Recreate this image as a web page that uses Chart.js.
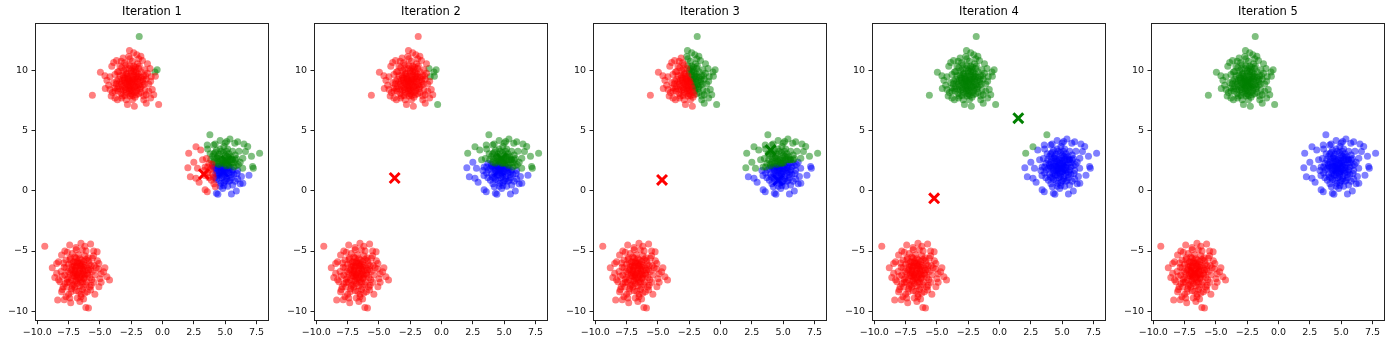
<!DOCTYPE html>
<html>
<head>
<meta charset="utf-8">
<title>K-means iterations</title>
<script src="https://cdn.jsdelivr.net/npm/chart.js@4.4.1/dist/chart.umd.min.js"></script>
<style>
  html, body { margin: 0; padding: 0; background: #fff; }
  #wrap { position: relative; width: 1400px; height: 345px; }
  #wrap canvas { position: absolute; top: 0; }
</style>
</head>
<body>
<div id="wrap"></div>
<script>
// sample points, three blobs (same points in every panel)
const blobTop = [
  [-1.86,12.86],[-2.64,11.70],[-2.30,11.50],[-2.05,11.35],[-3.15,11.08],[-3.67,10.86],[-1.73,11.22],
  [-1.60,10.86],[-3.02,10.67],[-4.05,10.39],[-4.96,9.89],[-0.43,10.10],[-0.57,9.56],[-0.95,9.14],
  [-0.82,8.44],[-4.44,9.22],[-4.57,8.53],[-4.19,8.44],[-5.60,7.97],[-3.80,7.75],[-3.28,7.75],
  [-2.25,7.06],[-0.95,7.75],[-0.31,7.20],[-1.30,7.30],[-2.80,7.20],[-1.50,7.90],[-0.70,8.00],
  [-4.10,7.90],[-3.90,10.70],[-2.70,11.20],[-1.20,10.60],[-1.00,10.20],[-4.60,9.60],[-0.60,9.90],
  [-2.5,9.0],[-2.2,9.3],[-2.8,8.8],[-3.0,9.4],[-2.0,8.6],[-2.6,9.6],[-3.3,8.9],[-1.8,9.2],
  [-2.4,8.3],[-2.9,8.2],[-3.5,9.3],[-1.6,8.8],[-2.1,9.9],[-3.1,10.0],[-2.7,10.2],[-3.6,8.5],
  [-1.5,9.6],[-2.3,10.4],[-3.8,9.7],[-1.9,8.1],[-2.6,7.9],[-3.3,8.1],[-1.4,8.4],[-2.0,10.6],
  [-3.4,10.4],[-1.7,9.9],[-2.9,9.7],[-2.4,9.5],[-2.2,8.7],[-3.0,8.6],[-2.7,8.5],[-1.9,9.5],
  [-3.2,9.2],[-2.5,10.0],[-1.3,9.3],[-3.9,9.0],[-2.1,8.0],[-2.8,9.1],[-2.3,9.1],[-3.5,8.7],
  [-1.8,8.5],[-2.6,8.7],[-3.1,8.4],[-1.1,8.9],[-4.0,8.2],[-2.0,9.1],[-3.6,9.9],[-2.4,7.6],
  [-1.6,9.1],[-3.2,7.9],[-2.9,10.5],[-1.9,10.2],[-3.7,8.9],[-2.2,7.8],[-1.2,9.8],[-3.4,9.6],
  [-2.7,9.3],[-2.1,9.5],[-3.0,9.0],[-2.5,8.1],[-1.7,8.2],[-3.3,10.8],[-2.4,10.8],[-1.4,10.1],
  [-4.3,8.8],[-3.8,8.3],[-2.9,7.6],[-1.1,8.3],[-2.2,10.1],[-3.6,7.6],[-1.5,7.6],[-2.6,11.0],
  [-1.9,11.0],[-4.2,9.5],[-0.9,9.5],[-1.3,8.0],
  [-2.45,9.15],[-2.65,9.05],[-2.35,8.85],[-2.55,8.6],[-2.75,9.35],[-2.15,9.05],[-2.9,8.95],
  [-2.3,9.65],[-2.0,9.35],[-3.05,9.2],[-2.6,8.35],[-1.85,8.85],[-3.2,8.7],[-2.85,9.8],
  [-2.05,8.35],[-3.4,9.05],[-1.7,9.45],[-2.5,9.85],[-2.95,8.45],[-2.25,8.55],[-3.15,9.65],
  [-1.95,9.75],[-2.7,8.1],[-3.5,9.95],[-1.55,9.3],[-2.4,10.2],[-3.3,8.45],[-2.1,8.75],
  [-2.8,9.55],[-1.75,8.65],[-3.65,9.15],[-2.35,9.3],[-2.6,10.45],[-3.0,7.95],[-2.15,10.3],
  [-1.45,8.9],[-3.55,8.3],[-2.5,8.45],[-2.95,10.15],[-1.85,10.4],[-3.25,10.25],[-2.2,8.2],
  [-2.7,8.75],[-3.8,8.6],[-1.35,9.6],[-2.4,7.95],[-2.05,9.6],[-3.1,9.45],[-2.6,9.2],[-2.3,9.95]
];

const blobBottom = [
  [-9.40,-4.60],[-7.41,-4.50],[-6.51,-4.36],[-5.74,-4.42],[-5.22,-5.06],[-8.06,-5.33],[-8.45,-6.03],
  [-8.45,-6.86],[-8.19,-7.56],[-8.06,-8.39],[-8.37,-9.08],[-7.85,-9.05],[-7.33,-9.30],[-6.51,-8.81],
  [-6.12,-9.70],[-5.91,-9.75],[-4.44,-7.14],[-4.23,-7.42],[-4.70,-6.72],[-5.08,-6.03],[-5.74,-8.25],
  [-5.08,-7.97],[-7.93,-7.97],[-6.90,-4.70],[-6.20,-4.60],[-7.80,-5.00],[-5.50,-5.40],[-4.90,-7.60],
  [-8.60,-7.20],[-7.40,-8.90],[-6.30,-9.00],[-5.40,-8.60],[-4.60,-6.40],[-8.80,-6.40],
  [-6.7,-6.8],[-6.4,-6.5],[-7.0,-7.1],[-6.9,-6.3],[-6.2,-7.0],[-7.3,-6.6],[-6.5,-7.4],[-6.0,-6.4],
  [-7.1,-5.9],[-6.8,-7.7],[-5.8,-7.2],[-7.5,-7.2],[-6.3,-5.9],[-7.2,-7.9],[-6.6,-6.0],[-5.6,-6.7],
  [-7.7,-6.4],[-6.1,-7.8],[-6.9,-5.6],[-7.4,-5.7],[-5.9,-5.8],[-6.4,-8.2],[-7.8,-7.0],[-5.4,-7.0],
  [-6.6,-7.2],[-7.0,-6.6],[-6.3,-6.9],[-6.8,-6.2],[-7.6,-7.6],[-5.7,-6.2],[-6.2,-5.4],[-7.2,-5.2],
  [-6.5,-8.6],[-7.9,-6.0],[-5.3,-6.4],[-6.9,-8.3],[-7.3,-8.4],[-5.8,-8.0],[-6.0,-6.9],[-7.1,-6.9],
  [-6.6,-6.5],[-6.4,-7.6],[-7.5,-6.1],[-5.5,-7.6],[-6.7,-5.3],[-7.6,-5.1],[-8.1,-6.7],[-6.1,-5.0],
  [-7.0,-7.5],[-6.2,-6.2],[-6.8,-7.0],[-5.9,-6.6],[-7.3,-7.4],[-6.5,-6.2],[-7.8,-7.7],[-5.2,-5.8],
  [-6.0,-8.4],[-6.8,-8.9],[-7.5,-8.6],[-6.3,-7.3],[-7.2,-6.3],[-5.6,-5.6],[-8.3,-5.9],[-6.9,-4.9],
  [-5.5,-5.0],[-7.0,-5.5],[-6.6,-9.2],[-8.0,-8.2],[-4.9,-6.9],[-5.1,-6.5],[-6.4,-4.9],[-7.7,-8.8],
  [-8.3,-7.4],[-5.0,-7.3],
  [-6.65,-6.65],[-6.85,-6.95],[-6.5,-6.85],[-6.75,-7.3],[-6.95,-6.45],[-6.35,-6.7],[-7.15,-7.05],
  [-6.55,-6.25],[-7.05,-6.25],[-6.25,-7.25],[-6.9,-7.45],[-7.4,-6.85],[-6.15,-6.6],[-6.6,-7.9],
  [-7.25,-6.05],[-6.45,-5.75],[-5.95,-7.0],[-7.55,-6.7],[-6.8,-5.85],[-6.3,-8.0],[-7.6,-7.35],
  [-5.75,-6.55],[-7.0,-8.0],[-6.1,-5.7],[-7.35,-5.55],[-6.05,-7.55],[-7.85,-6.35],[-6.7,-8.35],
  [-5.65,-7.4],[-7.1,-7.8],[-6.4,-6.1],[-6.95,-5.95],[-7.45,-7.6],[-5.85,-6.1],[-6.6,-5.65],
  [-7.7,-5.75],[-6.2,-8.5],[-7.25,-8.15],[-5.45,-6.2],[-6.85,-7.15],[-6.45,-7.05],[-7.0,-6.8],
  [-6.3,-6.35],[-7.2,-6.55],[-6.55,-7.6],[-5.95,-5.55],[-7.65,-8.0],[-6.75,-6.0],[-5.7,-7.85],
  [-8.0,-7.1]
];

const blobRight = [
  [3.78,4.67],[5.38,4.33],[5.12,4.11],[5.77,3.97],[6.80,3.70],[6.62,3.28],[7.75,3.14],[6.41,2.72],
  [2.09,3.14],[2.67,3.69],[3.05,3.42],[3.57,3.83],[4.09,3.83],[2.02,1.94],[2.79,1.89],[2.22,1.19],
  [2.67,1.06],[2.92,0.72],[3.39,1.28],[3.57,-0.06],[4.42,-0.28],[5.50,-0.25],[5.89,0.00],[6.41,0.64],
  [7.19,2.03],[7.25,1.90],[4.22,0.36],[6.20,0.60],[3.40,0.10],[4.30,-0.20],[7.10,2.90],[6.00,4.10],
  [4.60,4.20],[3.20,2.60],[6.90,1.30],[2.50,2.40],[6.50,3.90],
  [4.75,1.9],[4.5,2.2],[5.0,1.6],[4.3,1.7],[5.2,2.3],[4.8,2.6],[4.1,2.4],[5.4,1.9],[4.6,1.3],
  [5.1,1.0],[3.9,1.9],[5.6,2.6],[4.4,2.9],[5.0,3.0],[4.2,1.1],[5.7,1.4],[3.7,2.3],[4.9,0.7],
  [5.3,2.8],[4.0,2.9],[5.9,2.1],[4.5,0.9],[3.6,1.5],[5.5,1.1],[4.7,3.3],[5.2,0.4],[4.1,0.6],
  [6.0,1.7],[3.8,3.1],[5.8,3.0],[4.4,2.5],[5.1,2.1],[4.8,1.5],[4.6,1.9],[5.3,1.5],[4.2,2.0],
  [4.9,2.3],[5.5,2.3],[4.0,1.4],[5.6,3.3],[4.3,3.4],[3.5,2.7],[6.2,2.4],[4.9,1.2],[5.2,3.5],
  [3.9,0.9],[5.8,0.8],[4.6,0.4],[6.3,1.2],[3.4,2.0],[5.0,2.5],[4.7,2.1],[5.4,2.6],[4.4,1.5],
  [5.7,2.0],[4.1,3.1],[4.9,3.7],[5.9,2.7],[3.7,1.1],[5.3,0.8],[4.5,2.7],[6.1,3.3],[4.8,0.2],
  [3.3,1.7],[5.1,1.8],[4.3,2.3],[5.5,1.6],[4.7,1.7],[6.0,1.0],[4.0,2.1],[5.6,0.5],[3.6,3.5],
  [4.2,3.9],[5.0,4.0],[6.4,1.9],
  [4.7,1.85],[4.9,2.05],[4.55,1.65],[5.05,2.35],[4.4,2.05],[4.85,1.4],[5.25,1.75],[4.6,2.45],
  [4.25,1.45],[5.35,2.15],[4.95,2.75],[4.15,2.65],[5.5,1.35],[4.75,1.1],[5.15,1.25],[3.95,2.25],
  [5.45,2.85],[4.5,3.05],[4.85,3.2],[5.7,2.35],[4.3,0.95],[5.0,0.85],[3.75,1.75],[5.6,1.75],
  [4.65,0.65],[4.05,1.15],[5.3,3.1],[4.35,2.75],[5.8,2.6],[4.8,2.3],[4.45,1.3],[5.2,2.6],
  [3.85,2.6],[5.95,1.45],[4.6,3.5],[5.1,3.3],[4.2,3.2],[5.4,0.9],[4.9,0.45],[3.6,2.0],
  [6.05,2.2],[4.55,2.05],[5.0,1.9],[4.7,2.6],[5.3,1.95],[4.3,1.85],[5.55,2.6],[4.1,1.95],
  [4.95,1.6],[5.15,2.9]
];

// centroid of each cluster, one entry per iteration
const redCentroids   = [[3.3, 1.4], [-3.74, 1.08], [-4.67, 0.92], [-5.22, -0.61], [-6.7, -6.8]];
const greenCentroids = [[5.1, 2.5], [4.8, 2.7], [4.0, 3.4], [1.5, 6.06], [-2.5, 9.0]];
const blueCentroids  = [[4.85, 1.6], [4.6, 1.7], [4.6, 0.9], [4.9, 1.9], [4.75, 1.9]];

const titles = ['Iteration 1', 'Iteration 2', 'Iteration 3', 'Iteration 4', 'Iteration 5'];
const xTicks = [-10, -7.5, -5, -2.5, 0, 2.5, 5, 7.5];
const yTicks = [-10, -5, 0, 5, 10];

const pointFill = ['rgba(255,0,0,0.5)', 'rgba(0,128,0,0.5)', 'rgba(0,0,255,0.5)'];
const crossColor = ['#ff0000', '#008000', '#0000ff'];

const allPoints = blobTop.concat(blobBottom, blobRight);
const minus = s => String(s).replace('-', '\u2212');

// axes box on all four sides
const frame = {
  id: 'frame',
  afterDraw(chart) {
    const a = chart.chartArea, ctx = chart.ctx;
    ctx.save();
    ctx.strokeStyle = '#222';
    ctx.lineWidth = 1;
    ctx.strokeRect(Math.round(a.left) + 0.5, Math.round(a.top) + 0.5,
                   Math.round(a.right - a.left) - 1, Math.round(a.bottom - a.top) - 1);
    ctx.restore();
  }
};

const wrap = document.getElementById('wrap');

titles.forEach((title, i) => {
  const cents = [redCentroids[i], greenCentroids[i], blueCentroids[i]];

  // assign each point to its closest centroid
  const groups = [[], [], []];
  allPoints.forEach(([x, y]) => {
    let best = 0, bestD = Infinity;
    cents.forEach(([cx, cy], k) => {
      const d = (x - cx) ** 2 + (y - cy) ** 2;
      if (d < bestD) { bestD = d; best = k; }
    });
    groups[best].push({ x, y });
  });

  const datasets = [];
  groups.forEach((pts, k) => {
    datasets.push({
      label: 'cluster ' + k,
      data: pts,
      backgroundColor: pointFill[k],
      borderWidth: 0,
      pointRadius: 3.5,
      order: 1
    });
  });
  // centroid markers sit underneath the points
  cents.forEach(([cx, cy], k) => {
    datasets.push({
      label: 'centroid ' + k,
      data: [{ x: cx, y: cy }],
      pointStyle: 'crossRot',
      pointRadius: 7,
      borderColor: crossColor[k],
      borderWidth: 3,
      order: 2
    });
  });

  const canvas = document.createElement('canvas');
  canvas.width = 279;
  canvas.height = 345;
  canvas.style.left = (i * 279) + 'px';
  wrap.appendChild(canvas);

  new Chart(canvas, {
    type: 'scatter',
    data: { datasets },
    options: {
      responsive: false,
      animation: false,
      devicePixelRatio: 1,
      events: [],
      layout: { padding: { left: 0, right: 3, top: 0, bottom: 0 } },
      plugins: {
        legend: { display: false },
        tooltip: { enabled: false },
        title: {
          display: true,
          text: title,
          fullSize: false,
          color: '#000',
          font: { family: 'DejaVu Sans', size: 11.5, weight: 'normal', lineHeight: 1.2 },
          padding: { top: 5, bottom: 4 }
        }
      },
      scales: {
        x: {
          type: 'linear',
          min: -10.18,
          max: 8.5,
          afterBuildTicks: s => { s.ticks = xTicks.map(v => ({ value: v })); },
          afterFit: s => { s.height = 24.3; },
          border: { display: false },
          grid: { drawOnChartArea: false, drawTicks: true, tickLength: 3.5, tickColor: '#222', tickWidth: 1 },
          ticks: {
            color: '#111',
            font: { family: 'DejaVu Sans', size: 9.5 },
            padding: 2.5,
            maxRotation: 0,
            autoSkip: false,
            callback: v => minus(v.toFixed(1))
          }
        },
        y: {
          type: 'linear',
          min: -10.8,
          max: 14.0,
          afterBuildTicks: s => { s.ticks = yTicks.map(v => ({ value: v })); },
          afterFit: s => { s.width = 35; },
          border: { display: false },
          grid: { drawOnChartArea: false, drawTicks: true, tickLength: 3.5, tickColor: '#222', tickWidth: 1 },
          ticks: {
            color: '#111',
            font: { family: 'DejaVu Sans', size: 9.5 },
            padding: 3.5,
            autoSkip: false,
            callback: v => minus(v)
          }
        }
      }
    },
    plugins: [frame]
  });
});
</script>
</body>
</html>
